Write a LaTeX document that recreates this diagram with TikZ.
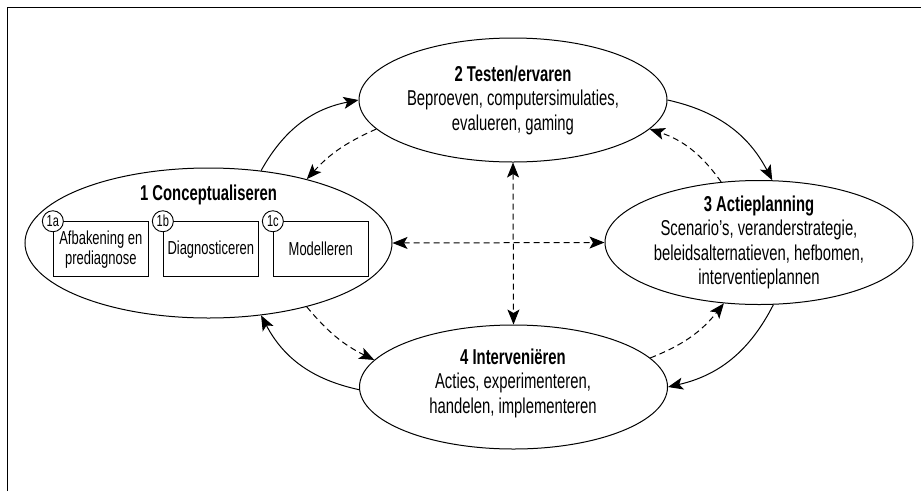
\documentclass[tikz,border=0pt]{standalone}
\usepackage{fontspec}
\setmainfont{Liberation Sans}[FakeStretch=0.69]
\usetikzlibrary{shapes.geometric,arrows.meta}

\begin{document}
\begin{tikzpicture}[x=1pt,y=-1pt,
    bubble/.style={ellipse,draw,line width=1pt,minimum width=308pt,minimum height=124pt,inner sep=0pt},
    txt/.style={align=center,font=\fontsize{21.5}{24.5}\selectfont},
    sub/.style={draw,line width=0.9pt,minimum width=95pt,minimum height=55pt,inner sep=0pt,align=center,font=\fontsize{18.8}{20}\selectfont},
    tag/.style={circle,draw,fill=white,line width=0.9pt,minimum size=21pt,inner sep=0pt,font=\fontsize{16}{16}\selectfont},
    fwd/.style={line width=1pt,-{Stealth[length=15pt,width=12pt,inset=3.5pt]}},
    rev/.style={fwd,dash pattern=on 6pt off 4pt},
    cross/.style={rev,{Stealth[length=15pt,width=12pt,inset=3.5pt]}-{Stealth[length=15pt,width=12pt,inset=3.5pt]}}]

    \path[fill=white,use as bounding box] (0,0) rectangle (921,491);
    \coordinate (p) at (7.5,491);
    \coordinate (q) at (7.5,7.5);
    \coordinate (r) at (921,7.5);
    \draw [line width=1.3pt] (p) -- (q) -- (r);

    \node[bubble,minimum width=367pt,minimum height=150pt] (a) at (208.5,243) {};
    \node[bubble] (b) at (513,100) {};
    \node[bubble] (c) at (759,242.5) {};
    \node[bubble] (d) at (513.5,387) {};

    \node[txt] at (208.5,195) {\textbf{1 Conceptualiseren}};
    \node[txt] at (b) {\textbf{2 Testen/ervaren}\\Beproeven, computersimulaties,\\evalueren, gaming};
    \node[txt] at (c) {\textbf{3 Actieplanning}\\Scenario’s, veranderstrategie,\\beleidsalternatieven, hefbomen,\\interventieplannen};
    \node[txt] at (513,383) {\textbf{4 Interveniëren}\\Acties, experimenteren,\\handelen, implementeren};

    \node[sub] (e) at (100.8,249.2) {Afbakening en\\prediagnose};
    \node[sub] (f) at (210.8,249.2) {Diagnosticeren};
    \node[sub] (g) at (320.8,249.2) {Modelleren};
    \node[tag] (h) at (e.north west) {1a};
    \node[tag] (i) at (f.north west) {1b};
    \node[tag] (j) at (g.north west) {1c};

    \draw [fwd] (a.54) to[bend left=25] (b.180);
    \draw [fwd] (b.0) to[bend left=25] (c.78);
    \draw [fwd] (c.283) to[bend left=25] (d.0);
    \draw [fwd] (d.181) to[bend left=25] (a.-54);
    \draw [rev] (b.192) to[bend right=12] (a.33);
    \draw [rev] (c.122) to[bend right=18] (b.348);
    \draw [rev] (d.12) to[bend right=15] (c.240);
    \draw [rev] (a.-33) to[bend right=12] (d.169);
    \draw [cross] (a.0) -- (c.180);
    \draw [cross] (b.270) -- (d.90);

  \end{tikzpicture}
\end{document}
